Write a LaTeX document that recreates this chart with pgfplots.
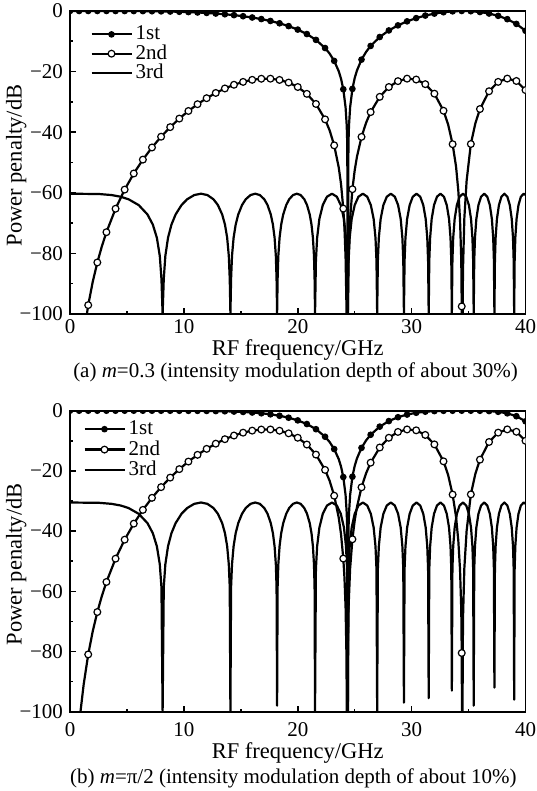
\documentclass[border=0pt]{standalone}
\usepackage{fontspec}
\setmainfont{Liberation Serif}
\usepackage{pgfplots}
\pgfplotsset{compat=1.18}

\pgfplotsset{
  panel/.style={
    scale only axis, width=227.75pt,
    xmin=0, xmax=40, ymin=-100, ymax=0,
    xtick={0,10,20,30,40}, xticklabels={0,10,20,30,40},
    minor xtick={5,15,25,35},
    ytick={-100,-80,-60,-40,-20,0},
    yticklabels={−100,−80,−60,−40,−20,0},
    minor ytick={-90,-70,-50,-30,-10},
    tick pos=left, tick align=inside,
    major tick length=3pt, minor tick length=1.6pt,
    tick style={black, line width=0.8pt},
    axis line style={line width=0.9pt},
    clip marker paths=true,
    ticklabel style={font=\fontsize{10.5}{12}\selectfont},
    label style={font=\fontsize{11.25}{13.5}\selectfont},
    xlabel={RF frequency/GHz}, ylabel={Power penalty/dB},
    ylabel style={at={(axis description cs:-0.106,0.49)}, anchor=base},
    legend image code/.code={\draw[mark repeat=2,mark phase=2,#1]
      plot coordinates {(0pt,0pt) (10pt,0pt) (20pt,0pt)};},
    legend cell align=left,
    legend style={draw=none, fill=none, anchor=north west,
      at={(axis description cs:0,1)},
      font=\fontsize{10.5}{12}\selectfont,
      nodes={inner xsep=1.5pt, inner ysep=0.5pt, text height=7pt, text depth=1.5pt}},
  },
  c1/.style={black, line width=1.1pt, line join=round, mark=none,
    legend image post style={mark=*, mark size=1.4pt, mark options={solid, fill=black, line width=0.5pt}}},
  c2/.style={black, line width=1.1pt, line join=round, mark=none,
    legend image post style={mark=*, mark size=1.7pt, mark options={solid, fill=white, line width=0.6pt}}},
  c3/.style={black, line width=1.1pt, line join=round, mark=none},
  m1/.style={only marks, forget plot, mark=*, mark size=1.4pt, black, mark options={line width=0.5pt}},
  m2/.style={only marks, forget plot, mark=*, mark size=1.7pt, black, mark options={fill=white, line width=0.6pt}},
}

\begin{document}
\begin{tikzpicture}
\path[use as bounding box] (-35pt,-39.65pt) rectangle (233pt,355.85pt);

% ---------------- (a) m = 0.3 ----------------
\begin{axis}[panel, name=pa, at={(0pt,198.85pt)}, anchor=south west, height=151.5pt,
  xticklabel style={yshift=0.8pt},
  xlabel style={at={(axis description cs:0.5,0)}, anchor=base, yshift=-20.6pt},
  legend style={xshift=7pt, yshift=-4.75pt, row sep=0.15pt}]
% 1st
\addplot[c1] coordinates {
(0,0) (0.8,0) (1.6,0) (2.4,0) (3.2,0) (4,-0.01) (4.8,-0.02) (5.6,-0.03) (6.4,-0.05)
(7.2,-0.08) (8,-0.12) (8.8,-0.18) (9.6,-0.26) (10.4,-0.36) (11.2,-0.49) (12,-0.64)
(12.8,-0.84) (13.6,-1.08) (14.4,-1.37) (15.2,-1.72) (16,-2.15) (16.8,-2.67) (17.6,-3.29)
(18.4,-4.06) (19.2,-4.99) (20,-6.14) (20.8,-7.61) (21.6,-9.54) (22.4,-12.23) (22.8,-14.07)
(23.2,-16.47) (23.6,-19.89) (23.8,-22.35) (24,-25.82) (24.2,-31.79) (24.3,-37.75)
(24.35,-43.83) (24.4,-110) (24.45,-43.83) (24.5,-37.86) (24.6,-31.79) (24.8,-25.71)
(25,-22.16) (25.2,-19.63) (25.6,-16.05) (26,-13.51) (26.4,-11.54) (27.2,-8.59) (28,-6.42)
(28.8,-4.75) (29.6,-3.42) (30.4,-2.35) (31.2,-1.51) (32,-0.87) (32.8,-0.41) (33.6,-0.12)
(34.4,0) (35.2,-0.07) (36,-0.34) (36.8,-0.83) (37.6,-1.60) (38.4,-2.70) (39.2,-4.27) (40,-6.53)};
% 2nd
\addplot[c2] coordinates {
(1.484,-100) (1.6,-97.07) (2,-89.33) (2.4,-82.99) (2.8,-77.64) (3.2,-73.00) (4,-65.26)
(4.8,-58.95) (5.6,-53.63) (6.4,-49.05) (7.2,-45.04) (8,-41.49) (8.8,-38.33) (9.6,-35.51)
(10.4,-33.00) (11.2,-30.76) (12,-28.78) (12.8,-27.05) (13.6,-25.57) (14.4,-24.35)
(15.2,-23.40) (16,-22.72) (16.8,-22.36) (17.6,-22.34) (18.4,-22.75) (19.2,-23.62)
(20,-25.09) (20.8,-27.34) (21.6,-30.68) (22.4,-35.77) (22.8,-39.41) (23.2,-44.34)
(23.6,-51.65) (23.8,-57.09) (24,-65.22) (24.1,-71.44) (24.2,-81.30) (24.28,-97.90)
(24.33,-120) (24.38,-97.90) (24.45,-82.60) (24.6,-68.48) (24.8,-58.81) (25,-52.63)
(25.2,-48.08) (25.6,-41.55) (26,-36.90) (26.4,-33.37) (27.2,-28.33) (28,-25.09)
(28.8,-23.15) (29.6,-22.33) (30.4,-22.62) (31.2,-24.15) (32,-27.29) (32.8,-32.92)
(33.2,-37.37) (33.6,-43.96) (33.9,-51.30) (34.1,-59.30) (34.25,-68.80) (34.36,-82.30)
(34.4,-97.50) (34.44,-120) (34.51,-85.40) (34.63,-68.40) (34.83,-56.00) (35.2,-43.90)
(35.6,-37.02) (36,-32.36) (36.8,-26.49) (37.6,-23.39) (38.4,-22.31) (39.2,-23.10) (40,-26.10)};
% 3rd
\addplot[c3] coordinates {
(0,-60.30) (2.572,-60.41) (3.637,-60.74) (4.455,-61.30) (5.144,-62.14) (6.032,-64.05)
(6.805,-67.16) (7.274,-70.50) (7.629,-74.85) (7.885,-80.83) (8.031,-88.42) (8.133,-100)
(8.234,-88.42) (8.373,-80.83) (8.607,-74.85) (8.909,-70.50) (9.273,-67.16) (9.793,-64.05)
(10.288,-62.14) (10.912,-60.74) (11.502,-60.30) (12.063,-60.74) (12.600,-62.14) (12.987,-64.05)
(13.364,-67.16) (13.609,-70.50) (13.802,-74.85) (13.945,-80.83) (14.028,-88.42) (14.087,-100)
(14.145,-88.42) (14.227,-80.83) (14.366,-74.85) (14.549,-70.50) (14.774,-67.16) (15.106,-64.05)
(15.431,-62.14) (15.854,-60.74) (16.266,-60.30) (16.668,-60.74) (17.060,-62.14) (17.348,-64.05)
(17.632,-67.16) (17.819,-70.50) (17.966,-74.85) (18.076,-80.83) (18.140,-88.42) (18.186,-100)
(18.231,-88.42) (18.295,-80.83) (18.403,-74.85) (18.546,-70.50) (18.724,-67.16) (18.987,-64.05)
(19.246,-62.14) (19.587,-60.74) (19.922,-60.30) (20.251,-60.74) (20.575,-62.14) (20.815,-64.05)
(21.052,-67.16) (21.208,-70.50) (21.333,-74.85) (21.425,-80.83) (21.479,-88.42) (21.518,-100)
(21.595,-82.41) (21.702,-74.85) (21.899,-68.64) (22.199,-64.05) (22.568,-61.30) (23.004,-60.30)
(23.431,-61.30) (23.781,-64.05) (24.058,-68.64) (24.236,-74.85) (24.331,-82.41) (24.399,-100)
(24.467,-82.41) (24.561,-74.85) (24.736,-68.64) (25.002,-64.05) (25.330,-61.30) (25.719,-60.30)
(26.102,-61.30) (26.417,-64.05) (26.666,-68.64) (26.827,-74.85) (26.913,-82.41) (26.974,-100)
(27.035,-82.41) (27.121,-74.85) (27.279,-68.64) (27.520,-64.05) (27.819,-61.30) (28.174,-60.30)
(28.524,-61.30) (28.812,-64.05) (29.041,-68.64) (29.188,-74.85) (29.268,-82.41) (29.324,-100)
(29.380,-82.41) (29.459,-74.85) (29.604,-68.64) (29.827,-64.05) (30.103,-61.30) (30.431,-60.30)
(30.755,-61.30) (31.023,-64.05) (31.236,-68.64) (31.373,-74.85) (31.446,-82.41) (31.499,-100)
(31.551,-82.41) (31.625,-74.85) (31.760,-68.64) (31.968,-64.05) (32.226,-61.30) (32.532,-60.30)
(32.836,-61.30) (33.086,-64.05) (33.286,-68.64) (33.415,-74.85) (33.484,-82.41) (33.533,-100)
(33.582,-82.41) (33.651,-74.85) (33.779,-68.64) (33.974,-64.05) (34.217,-61.30) (34.505,-60.30)
(34.792,-61.30) (35.029,-64.05) (35.217,-68.64) (35.339,-74.85) (35.404,-82.41) (35.451,-100)
(35.498,-82.41) (35.563,-74.85) (35.683,-68.64) (35.868,-64.05) (36.098,-61.30) (36.372,-60.30)
(36.644,-61.30) (36.868,-64.05) (37.048,-68.64) (37.163,-74.85) (37.226,-82.41) (37.270,-100)
(37.314,-82.41) (37.376,-74.85) (37.491,-68.64) (37.667,-64.05) (37.886,-61.30) (38.147,-60.30)
(38.406,-61.30) (38.621,-64.05) (38.792,-68.64) (38.903,-74.85) (38.962,-82.41) (39.005,-100)
(39.047,-82.41) (39.106,-74.85) (39.216,-68.64) (39.384,-64.05) (39.594,-61.30) (39.843,-60.30)
(40,-60.69)};
% markers
\addplot[m1] coordinates {
(0,0) (0.8,0) (1.6,0) (2.4,0) (3.2,0) (4,-0.01) (4.8,-0.02) (5.6,-0.03) (6.4,-0.05)
(7.2,-0.08) (8,-0.12) (8.8,-0.18) (9.6,-0.26) (10.4,-0.36) (11.2,-0.49) (12,-0.64)
(12.8,-0.84) (13.6,-1.08) (14.4,-1.37) (15.2,-1.72) (16,-2.15) (16.8,-2.67) (17.6,-3.29)
(18.4,-4.06) (19.2,-4.99) (20,-6.14) (20.8,-7.61) (21.6,-9.54) (22.4,-12.23) (23.2,-16.47)
(24,-25.82) (24.8,-25.71) (25.6,-16.05) (26.4,-11.54) (27.2,-8.59) (28,-6.42) (28.8,-4.75)
(29.6,-3.42) (30.4,-2.35) (31.2,-1.51) (32,-0.87) (32.8,-0.41) (33.6,-0.12) (34.4,0)
(35.2,-0.07) (36,-0.34) (36.8,-0.83) (37.6,-1.60) (38.4,-2.70) (39.2,-4.27) (40,-6.53)};
\addplot[m2] coordinates {
(1.6,-97.07) (2.4,-82.99) (3.2,-73.00) (4,-65.26) (4.8,-58.95) (5.6,-53.63) (6.4,-49.05)
(7.2,-45.04) (8,-41.49) (8.8,-38.33) (9.6,-35.51) (10.4,-33.00) (11.2,-30.76) (12,-28.78)
(12.8,-27.05) (13.6,-25.57) (14.4,-24.35) (15.2,-23.40) (16,-22.72) (16.8,-22.36)
(17.6,-22.34) (18.4,-22.75) (19.2,-23.62) (20,-25.09) (20.8,-27.34) (21.6,-30.68)
(22.4,-35.77) (23.2,-44.34) (24,-65.22) (24.8,-58.81) (25.6,-41.55) (26.4,-33.37)
(27.2,-28.33) (28,-25.09) (28.8,-23.15) (29.6,-22.33) (30.4,-22.62) (31.2,-24.15)
(32,-27.29) (32.8,-32.92) (33.6,-43.96) (34.4,-97.50) (35.2,-43.90) (36,-32.36)
(36.8,-26.49) (37.6,-23.39) (38.4,-22.31) (39.2,-23.10) (40,-26.10)};
\legend{1st,2nd,3rd}
\end{axis}

% ---------------- (b) m = pi/2 ----------------
\begin{axis}[panel, name=pb, at={(0pt,0pt)}, anchor=south west, height=150.5pt,
  xticklabel style={yshift=-2pt},
  xlabel style={at={(axis description cs:0.5,0)}, anchor=base, yshift=-23.6pt},
  legend style={xshift=3.5pt, yshift=-2.3pt, row sep=0.7pt}]
% 1st
\addplot[c1] coordinates {
(0,0) (0.8,0) (1.6,0) (2.4,0) (3.2,0) (4,0) (4.8,0) (5.6,0) (6.4,0) (7.2,0) (8,-0.01)
(8.8,-0.01) (9.6,-0.02) (10.4,-0.04) (11.2,-0.05) (12,-0.08) (12.8,-0.13) (13.6,-0.19)
(14.4,-0.28) (15.2,-0.41) (16,-0.60) (16.8,-0.85) (17.6,-1.20) (18.4,-1.68) (19.2,-2.33)
(20,-3.22) (20.8,-4.43) (21.6,-6.14) (22.4,-8.65) (22.8,-10.41) (23.2,-12.75) (23.6,-16.10)
(23.8,-18.56) (24,-22.04) (24.2,-28.00) (24.3,-33.96) (24.35,-40.04) (24.4,-110)
(24.45,-40.04) (24.5,-34.07) (24.6,-28.00) (24.8,-21.93) (25,-18.37) (25.2,-15.84)
(25.6,-12.35) (26,-9.88) (26.4,-8.00) (27.2,-5.29) (28,-3.45) (28.8,-2.16) (29.6,-1.28)
(30.4,-0.69) (31.2,-0.33) (32,-0.14) (32.8,-0.04) (33.6,-0.01) (34.4,0) (35.2,0)
(36,-0.03) (36.8,-0.13) (37.6,-0.37) (38.4,-0.87) (39.2,-1.83) (40,-3.53)};
% 2nd
\addplot[c2] coordinates {
(0.92,-100) (1.2,-90.97) (1.6,-80.97) (2,-73.23) (2.4,-66.89) (2.8,-61.54) (3.2,-56.90)
(4,-49.16) (4.8,-42.85) (5.6,-37.53) (6.4,-32.95) (7.2,-28.94) (8,-25.39) (8.8,-22.23)
(9.6,-19.41) (10.4,-16.90) (11.2,-14.66) (12,-12.68) (12.8,-10.95) (13.6,-9.47)
(14.4,-8.25) (15.2,-7.30) (16,-6.62) (16.8,-6.26) (17.6,-6.24) (18.4,-6.65) (19.2,-7.52)
(20,-8.99) (20.8,-11.24) (21.6,-14.58) (22.4,-19.67) (22.8,-23.31) (23.2,-28.24)
(23.6,-35.55) (23.8,-40.99) (24,-49.12) (24.1,-55.34) (24.2,-65.20) (24.28,-81.80)
(24.33,-120) (24.38,-81.80) (24.45,-66.50) (24.6,-52.38) (24.8,-42.71) (25,-36.53)
(25.2,-31.98) (25.6,-25.45) (26,-20.80) (26.4,-17.27) (27.2,-12.23) (28,-8.99)
(28.8,-7.05) (29.6,-6.23) (30.4,-6.52) (31.2,-8.05) (32,-11.19) (32.8,-16.82)
(33.2,-21.27) (33.6,-27.86) (33.9,-35.20) (34.1,-43.20) (34.25,-52.70) (34.36,-66.20)
(34.4,-80.50) (34.44,-120) (34.51,-69.30) (34.63,-52.30) (34.83,-39.90) (35.2,-27.80)
(35.6,-20.92) (36,-16.26) (36.8,-10.39) (37.6,-7.29) (38.4,-6.21) (39.2,-7.00) (40,-10.00)};
% 3rd
\addplot[c3] coordinates {
(0,-30.50) (2.572,-30.61) (3.637,-30.94) (4.455,-31.50) (5.144,-32.34) (6.032,-34.25)
(6.805,-37.36) (7.274,-40.70) (7.629,-45.05) (7.885,-51.03) (8.031,-58.62) (8.133,-100)
(8.234,-58.62) (8.373,-51.03) (8.607,-45.05) (8.909,-40.70) (9.273,-37.36) (9.793,-34.25)
(10.288,-32.34) (10.912,-30.94) (11.502,-30.50) (12.063,-30.94) (12.600,-32.34) (12.987,-34.25)
(13.364,-37.36) (13.609,-40.70) (13.802,-45.05) (13.945,-51.03) (14.028,-58.62) (14.087,-100)
(14.145,-58.62) (14.227,-51.03) (14.366,-45.05) (14.549,-40.70) (14.774,-37.36) (15.106,-34.25)
(15.431,-32.34) (15.854,-30.94) (16.266,-30.50) (16.668,-30.94) (17.060,-32.34) (17.348,-34.25)
(17.632,-37.36) (17.819,-40.70) (17.966,-45.05) (18.076,-51.03) (18.140,-58.62) (18.186,-98)
(18.231,-58.62) (18.295,-51.03) (18.403,-45.05) (18.546,-40.70) (18.724,-37.36) (18.987,-34.25)
(19.246,-32.34) (19.587,-30.94) (19.922,-30.50) (20.251,-30.94) (20.575,-32.34) (20.815,-34.25)
(21.052,-37.36) (21.208,-40.70) (21.333,-45.05) (21.425,-51.03) (21.479,-58.62) (21.518,-100)
(21.595,-52.61) (21.702,-45.05) (21.899,-38.84) (22.199,-34.25) (22.568,-31.50) (23.004,-30.50)
(23.431,-31.50) (23.781,-34.25) (24.058,-38.84) (24.236,-45.05) (24.331,-52.61) (24.399,-100)
(24.467,-52.61) (24.561,-45.05) (24.736,-38.84) (25.002,-34.25) (25.330,-31.50) (25.719,-30.50)
(26.102,-31.50) (26.417,-34.25) (26.666,-38.84) (26.827,-45.05) (26.913,-52.61) (26.974,-100)
(27.035,-52.61) (27.121,-45.05) (27.279,-38.84) (27.520,-34.25) (27.819,-31.50) (28.174,-30.50)
(28.524,-31.50) (28.812,-34.25) (29.041,-38.84) (29.188,-45.05) (29.268,-52.61) (29.324,-97)
(29.380,-52.61) (29.459,-45.05) (29.604,-38.84) (29.827,-34.25) (30.103,-31.50) (30.431,-30.50)
(30.755,-31.50) (31.023,-34.25) (31.236,-38.84) (31.373,-45.05) (31.446,-52.61) (31.499,-95.5)
(31.551,-52.61) (31.625,-45.05) (31.760,-38.84) (31.968,-34.25) (32.226,-31.50) (32.532,-30.50)
(32.836,-31.50) (33.086,-34.25) (33.286,-38.84) (33.415,-45.05) (33.484,-52.61) (33.533,-93)
(33.582,-52.61) (33.651,-45.05) (33.779,-38.84) (33.974,-34.25) (34.217,-31.50) (34.505,-30.50)
(34.792,-31.50) (35.029,-34.25) (35.217,-38.84) (35.339,-45.05) (35.404,-52.61) (35.451,-98)
(35.498,-52.61) (35.563,-45.05) (35.683,-38.84) (35.868,-34.25) (36.098,-31.50) (36.372,-30.50)
(36.644,-31.50) (36.868,-34.25) (37.048,-38.84) (37.163,-45.05) (37.226,-52.61) (37.270,-92)
(37.314,-52.61) (37.376,-45.05) (37.491,-38.84) (37.667,-34.25) (37.886,-31.50) (38.147,-30.50)
(38.406,-31.50) (38.621,-34.25) (38.792,-38.84) (38.903,-45.05) (38.962,-52.61) (39.005,-96)
(39.047,-52.61) (39.106,-45.05) (39.216,-38.84) (39.384,-34.25) (39.594,-31.50) (39.843,-30.50)
(40,-30.89)};
% markers
\addplot[m1] coordinates {
(0,0) (0.8,0) (1.6,0) (2.4,0) (3.2,0) (4,0) (4.8,0) (5.6,0) (6.4,0) (7.2,0) (8,-0.01)
(8.8,-0.01) (9.6,-0.02) (10.4,-0.04) (11.2,-0.05) (12,-0.08) (12.8,-0.13) (13.6,-0.19)
(14.4,-0.28) (15.2,-0.41) (16,-0.60) (16.8,-0.85) (17.6,-1.20) (18.4,-1.68) (19.2,-2.33)
(20,-3.22) (20.8,-4.43) (21.6,-6.14) (22.4,-8.65) (23.2,-12.75) (24,-22.04) (24.8,-21.93)
(25.6,-12.35) (26.4,-8.00) (27.2,-5.29) (28,-3.45) (28.8,-2.16) (29.6,-1.28) (30.4,-0.69)
(31.2,-0.33) (32,-0.14) (32.8,-0.04) (33.6,-0.01) (34.4,0) (35.2,0) (36,-0.03)
(36.8,-0.13) (37.6,-0.37) (38.4,-0.87) (39.2,-1.83) (40,-3.53)};
\addplot[m2] coordinates {
(1.6,-80.97) (2.4,-66.89) (3.2,-56.90) (4,-49.16) (4.8,-42.85) (5.6,-37.53) (6.4,-32.95)
(7.2,-28.94) (8,-25.39) (8.8,-22.23) (9.6,-19.41) (10.4,-16.90) (11.2,-14.66) (12,-12.68)
(12.8,-10.95) (13.6,-9.47) (14.4,-8.25) (15.2,-7.30) (16,-6.62) (16.8,-6.26) (17.6,-6.24)
(18.4,-6.65) (19.2,-7.52) (20,-8.99) (20.8,-11.24) (21.6,-14.58) (22.4,-19.67)
(23.2,-28.24) (24,-49.12) (24.8,-42.71) (25.6,-25.45) (26.4,-17.27) (27.2,-12.23)
(28,-8.99) (28.8,-7.05) (29.6,-6.23) (30.4,-6.52) (31.2,-8.05) (32,-11.19) (32.8,-16.82)
(33.6,-27.86) (34.4,-80.50) (35.2,-27.80) (36,-16.26) (36.8,-10.39) (37.6,-7.29)
(38.4,-6.21) (39.2,-7.00) (40,-10.00)};
\legend{1st,2nd,3rd}
\end{axis}

\node[anchor=base, font=\fontsize{10.5}{12}\selectfont] at ([xshift=-1.1pt, yshift=-31.8pt]pa.south)
  {(a) \textit{m}=0.3 (intensity modulation depth of about 30\%)};
\node[anchor=base, font=\fontsize{10.5}{12}\selectfont] at ([xshift=-2.2pt, yshift=-35.8pt]pb.south)
  {(b) \textit{m}=π/2 (intensity modulation depth of about 10\%)};
\end{tikzpicture}
\end{document}
